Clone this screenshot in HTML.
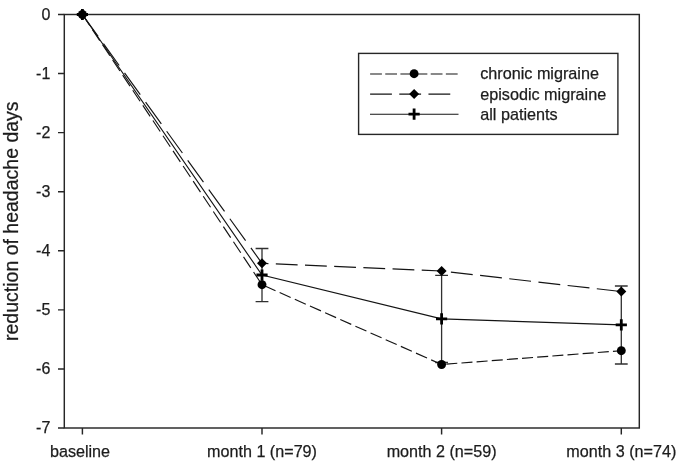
<!DOCTYPE html>
<html><head><meta charset="utf-8">
<style>
html,body{margin:0;padding:0;background:#fff;}
svg{display:block;will-change:transform;}
text{font-family:"Liberation Sans",sans-serif;fill:#1c1c1c;stroke:#1c1c1c;stroke-width:0.25px;}
</style></head>
<body>
<svg width="685" height="464" viewBox="0 0 685 464">
<g stroke="#262626" stroke-width="1.45" fill="none">
<rect x="64.3" y="14.5" width="575" height="413.5"/>
<path d="M58 14.50H64.3M58 73.57H64.3M58 132.64H64.3M58 191.71H64.3M58 250.78H64.3M58 309.85H64.3M58 368.92H64.3M58 427.99H64.3"/>
<path d="M82.4 428V434.5M262.0 428V434.5M441.6 428V434.5M621.3 428V434.5"/>
</g>
<g font-size="16" text-anchor="end">
<text transform="translate(50.3,19.90)">0</text>
<text transform="translate(50.3,78.97)">-1</text>
<text transform="translate(50.3,138.04)">-2</text>
<text transform="translate(50.3,197.11)">-3</text>
<text transform="translate(50.3,256.18)">-4</text>
<text transform="translate(50.3,315.25)">-5</text>
<text transform="translate(50.3,374.32)">-6</text>
<text transform="translate(50.3,433.39)">-7</text>
</g>
<g font-size="16.15" text-anchor="middle">
<text transform="translate(80.0,456.9)">baseline</text>
<text transform="translate(262.0,456.9)">month 1 (n=79)</text>
<text transform="translate(441.6,456.9)">month 2 (n=59)</text>
<text transform="translate(621.3,456.9)">month 3 (n=74)</text>
</g>
<text font-size="19.5" text-anchor="middle" transform="translate(17.8,221.2) rotate(-90)">reduction of headache days</text>
<g stroke="#303030" stroke-width="1.3" fill="none">
<path d="M262.0 248.5V301.6M255.6 248.5H268.4M255.6 301.6H268.4"/>
<path d="M441.6 275.4V362.5M435.20000000000005 275.4H448.0M435.20000000000005 362.5H448.0"/>
<path d="M621.3 286.0V364.0M614.9 286.0H627.6999999999999M614.9 364.0H627.6999999999999"/>
</g>
<g fill="none" stroke="#141414" stroke-width="1.15">
<path d="M82.4 14.5L262.0 284.7" stroke-dasharray="13.208 4.983" stroke-dashoffset="0.000"/>
<path d="M262.0 284.7L441.6 364.5" stroke-dasharray="12.037 4.541" stroke-dashoffset="13.842"/>
<path d="M441.6 364.5L621.3 350.7" stroke-dasharray="11.032 4.162" stroke-dashoffset="10.481"/>
<path d="M82.4 14.5L262.0 263.3" stroke-dasharray="26.886 9.102" stroke-dashoffset="0.000"/>
<path d="M262.0 263.3L441.6 271.0" stroke-dasharray="21.820 7.387" stroke-dashoffset="15.374"/>
<path d="M441.6 271.0L621.3 291.6" stroke-dasharray="21.943 7.428" stroke-dashoffset="20.010"/>
<polyline points="82.4,14.5 262.0,275.0 441.6,318.9 621.3,324.9"/>
</g>
<g fill="#000">
<circle cx="82.4" cy="14.5" r="4.45"/>
<circle cx="262.0" cy="284.7" r="4.45"/>
<circle cx="441.6" cy="364.5" r="4.45"/>
<circle cx="621.3" cy="350.7" r="4.45"/>
<path d="M82.4 9.5L87.4 14.5L82.4 19.5L77.4 14.5Z"/>
<path d="M262.0 258.3L267.0 263.3L262.0 268.3L257.0 263.3Z"/>
<path d="M441.6 266.0L446.6 271.0L441.6 276.0L436.6 271.0Z"/>
<path d="M621.3 286.6L626.3 291.6L621.3 296.6L616.3 291.6Z"/>
</g>
<g stroke="#000" stroke-width="2.8" fill="none">
<path d="M76.80000000000001 14.5H88.0M82.4 8.9V20.1"/>
<path d="M256.4 275.0H267.6M262.0 269.4V280.6"/>
<path d="M436.0 318.9H447.20000000000005M441.6 313.29999999999995V324.5"/>
<path d="M615.6999999999999 324.9H626.9M621.3 319.29999999999995V330.5"/>
</g>
<rect x="358.6" y="53.4" width="259.3" height="81" fill="none" stroke="#262626" stroke-width="1.4"/>
<g fill="none" stroke="#141414" stroke-width="1.15">
<path d="M370.1 74.0H458" stroke-dasharray="11.8 3.35"/>
<path d="M370.1 94.1H451" stroke-dasharray="21.8 7.38"/>
<path d="M370 114.2H458.5"/>
</g>
<circle cx="414.1" cy="73.7" r="4.45" fill="#000"/>
<g fill="#000"><path d="M414.1 89.1L419.1 94.1L414.1 99.1L409.1 94.1Z"/></g>
<g stroke="#000" stroke-width="2.8" fill="none"><path d="M408.5 114.2H419.70000000000005M414.1 108.60000000000001V119.8"/></g>
<g font-size="16.2">
<text transform="translate(480.2,79)">chronic migraine</text>
<text transform="translate(480.2,99.5)">episodic migraine</text>
<text transform="translate(480.2,120)">all patients</text>
</g>
</svg>
</body></html>
